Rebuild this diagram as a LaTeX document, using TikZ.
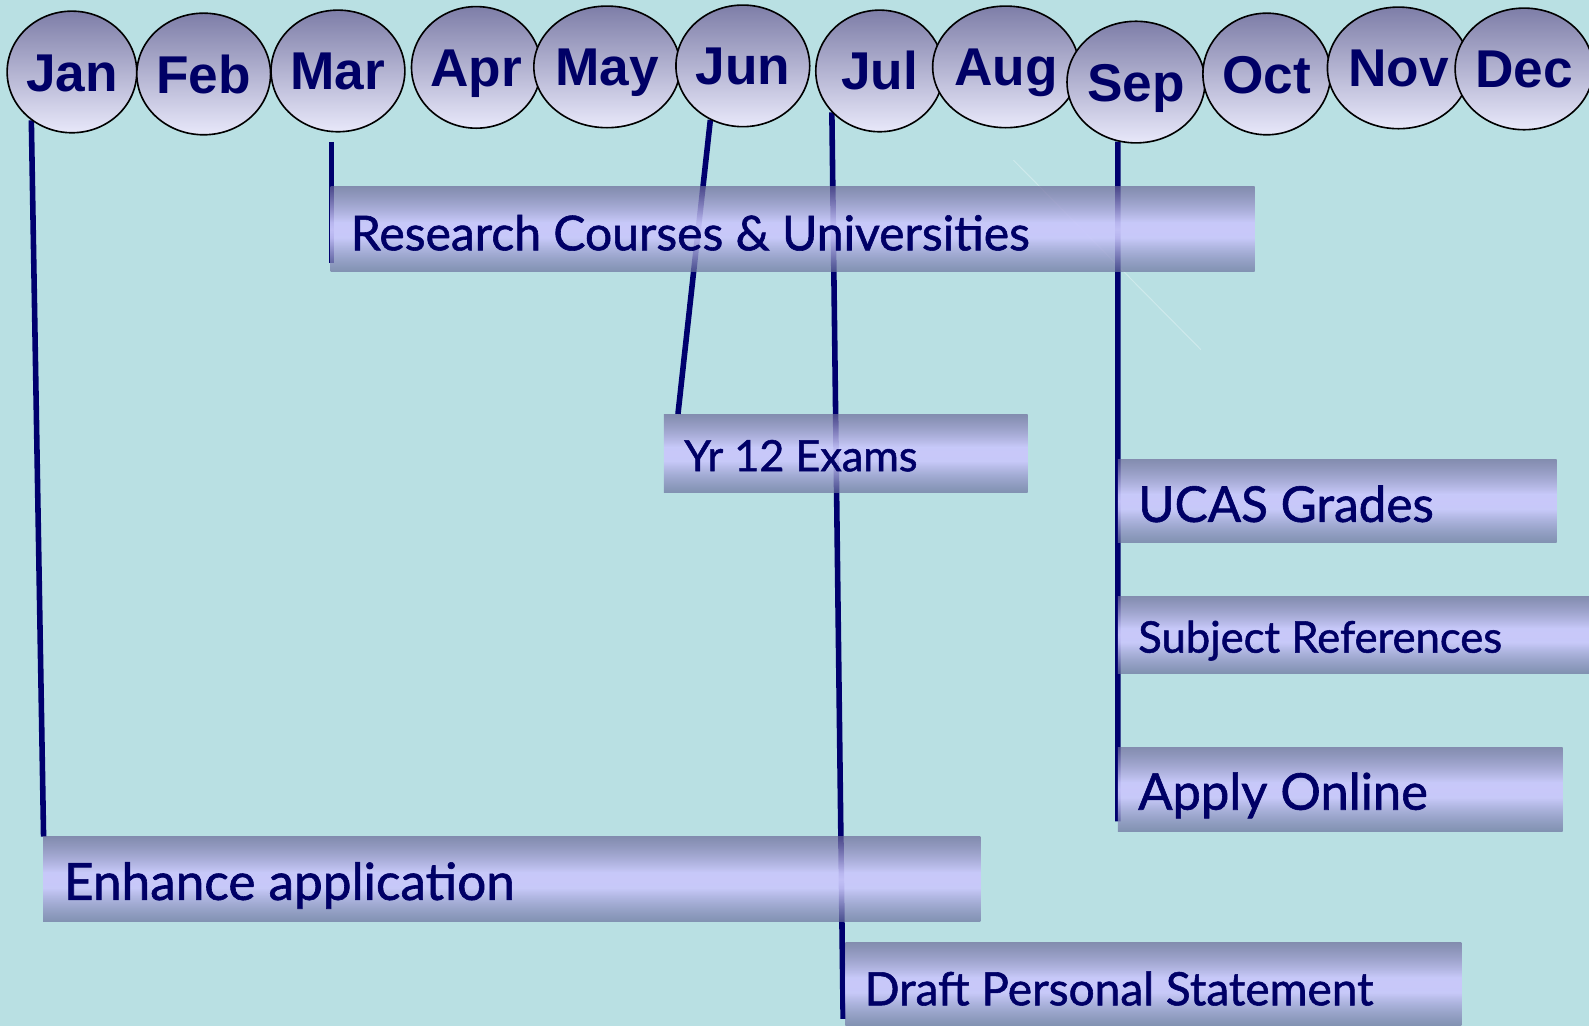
\documentclass[tikz,border=0pt]{standalone}
\usepackage{fontspec}
\setmainfont{Lato}
\newfontfamily\barfont{Lato}[FakeBold=1.2]
\newfontfamily\monthfont{Liberation Sans}
\usetikzlibrary{shapes.geometric,fadings}
\definecolor{bgcol}{RGB}{185,224,227}
\definecolor{navy}{RGB}{0,0,102}
\definecolor{linecol}{RGB}{0,0,110}
\definecolor{ctop}{RGB}{126,126,168}
\definecolor{cbot}{RGB}{232,232,250}
\definecolor{bartop}{RGB}{109,106,154}
\definecolor{barmid}{RGB}{201,199,251}
\definecolor{barbot}{RGB}{106,113,157}
\pgfdeclareverticalshading{barshade}{100bp}{color(0bp)=(barbot); color(25bp)=(barbot); color(45bp)=(barmid); color(54bp)=(barmid); color(75bp)=(bartop); color(100bp)=(bartop)}
\tikzfading[name=barfade, top color=transparent!30, bottom color=transparent!30, middle color=transparent!4]
\pgfdeclarelayer{bglayer}
\pgfdeclarelayer{linelayer}
\pgfsetlayers{bglayer,linelayer,main}
\tikzset{
  month/.style={ellipse, draw=black, line width=1.6pt, minimum width=126pt, minimum height=120pt,
    inner sep=0pt, top color=ctop, bottom color=cbot, text=navy,
    font=\monthfont\bfseries\fontsize{52.5}{60}\selectfont, text height=37.6pt, text depth=0pt},
  bar/.style={rectangle, inner sep=0pt, shading=barshade, path fading=barfade, fit fading=true, anchor=north west},
  bartext/.style={anchor=base west, text=navy, inner sep=0pt},
  conn/.style={draw=linecol, line width=5.5pt},
}
\begin{document}
\begin{tikzpicture}[x=1pt,y=-1pt]
\begin{pgfonlayer}{bglayer}
\fill[bgcol] (0,0) rectangle (1568,1012);
\end{pgfonlayer}
\useasboundingbox (0,0) rectangle (1568,1012);
% months
\node[month] (jan) at (71,71) {Jan};
\node[month] (feb) at (201,73) {Feb};
\node[month] (mar) at (333.5,70) {Mar};
\node[month] (apr) at (470,66.5) {Apr};
\node[month] (may) at (599,66) {May};
\node[month] (jun) at (733,65) {Jun};
\node[month] (jul) at (868,70) {Jul};
\node[month] (aug) at (992.5,66) {Aug};
\node[month] (sep) at (1121,81) {Sep};
\node[month] (oct) at (1250,73) {Oct};
\node[month] (nov) at (1380,67) {Nov};
\node[month] (dec) at (1504,68) {Dec};
% bars
\node[bar, minimum width=912pt, minimum height=84pt] (research) at (326,184) {};
\node[bar, minimum width=359pt, minimum height=77pt] (yr) at (655,408.5) {};
\node[bar, minimum width=433pt, minimum height=82pt] (ucas) at (1103,453) {};
\node[bar, minimum width=466pt, minimum height=76pt] (subject) at (1103,588) {};
\node[bar, minimum width=439pt, minimum height=83pt] (apply) at (1103,737) {};
\node[bar, minimum width=926pt, minimum height=84pt] (enhance) at (43,825.5) {};
\node[bar, minimum width=608pt, minimum height=82pt] (draft) at (834,930) {};
% bar texts
\node[bartext, font=\barfont\fontsize{47.4}{56}\selectfont] (researcht) at (346,247) {Research Courses \& Universities};
\node[bartext, font=\barfont\fontsize{42.6}{52}\selectfont] (yrt) at (675,465) {Yr 12 Exams};
\node[bartext, font=\barfont\fontsize{48.8}{58}\selectfont] (ucast) at (1123,515) {UCAS Grades};
\node[bartext, font=\barfont\fontsize{43}{52}\selectfont] (subjectt) at (1123,644) {Subject References};
\node[bartext, font=\barfont\fontsize{50}{60}\selectfont] (applyt) at (1123,799) {Apply Online};
\node[bartext, font=\barfont\fontsize{50.6}{60}\selectfont] (enhancet) at (63,888) {Enhance application};
\node[bartext, font=\barfont\fontsize{45.4}{54}\selectfont] (draftt) at (853,992) {Draft Personal Statement};
% connectors
\coordinate (marstart) at (327,140);
\coordinate (faintA) at (1000,158);
\coordinate (faintB) at (1185,345);
\begin{pgfonlayer}{linelayer}
\draw[white, opacity=0.3, line width=1pt] (faintA) -- (faintB);
\draw[conn] (jan.230) -- (enhance.north west);
\draw[conn] (marstart) -- ([xshift=1pt,yshift=9pt]research.south west);
\draw[conn] (jun.239) -- ([xshift=14pt]yr.north west);
\draw[conn] (jul.221) -- ([xshift=-2pt,yshift=7pt]draft.south west);
\draw[conn] (sep.253) -- ([yshift=10pt]apply.south west);
\end{pgfonlayer}
\end{tikzpicture}
\end{document}
